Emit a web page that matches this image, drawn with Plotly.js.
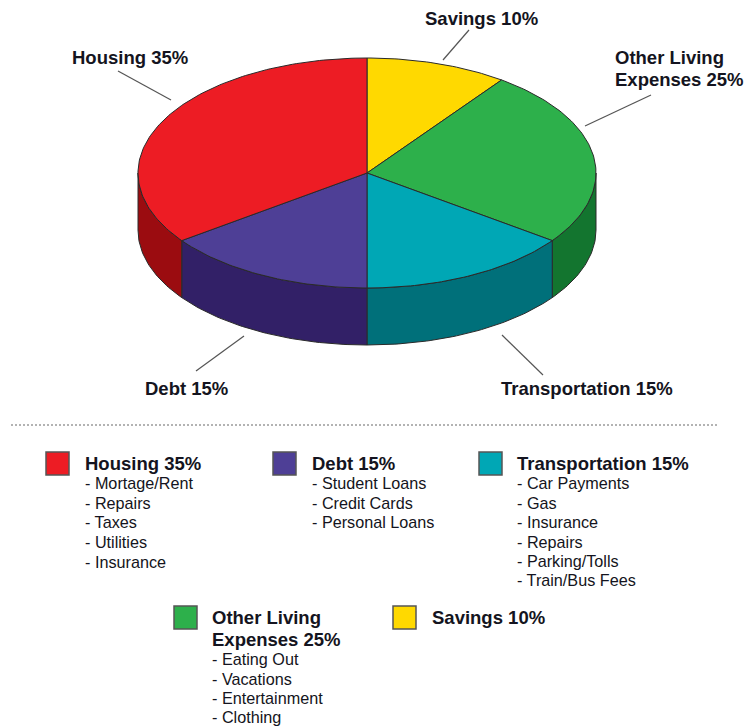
<!DOCTYPE html>
<html><head><meta charset="utf-8">
<script src="https://cdn.plot.ly/plotly-3.0.1.min.js"></script>
<style>html,body{margin:0;padding:0;background:#fff}#c{width:744px;height:726px}</style>
</head><body><div id="c"></div>
<script>
// Data, clockwise from 12 o'clock
const categories = ['Savings', 'Other Living Expenses', 'Transportation', 'Debt', 'Housing'];
const shares = [10, 25, 15, 15, 35];
const topColors = ['#FFD900', '#2DB04B', '#00A7B5', '#4E3F96', '#ED1C24'];
const wallColors = ['#B89A00', '#13752F', '#00707A', '#322067', '#9B0C10'];

const housingItems = ['- Mortage/Rent', '- Repairs', '- Taxes', '- Utilities', '- Insurance'];
const debtItems = ['- Student Loans', '- Credit Cards', '- Personal Loans'];
const transportItems = ['- Car Payments', '- Gas', '- Insurance', '- Repairs', '- Parking/Tolls', '- Train/Bus Fees'];
const otherItems = ['- Eating Out', '- Vacations', '- Entertainment', '- Clothing'];

// Geometry of the drawing, in page pixels
const cx = 367, cy = 173, rx = 229, ry = 115, depth = 57;
const ink = '#2a2a2a';
const pt = deg => [cx + rx * Math.sin(deg * Math.PI / 180), cy - ry * Math.cos(deg * Math.PI / 180)];

const traces = [];
function poly(xs, ys, fill) {
  traces.push({type: 'scatter', mode: 'lines', x: xs, y: ys, fill: 'toself', fillcolor: fill,
    line: {color: ink, width: 1}, hoverinfo: 'skip', showlegend: false});
}
let a = 0;
const spans = shares.map(s => { const r = [a, a + s * 3.6]; a = r[1]; return r; });
// walls (front half only)
spans.forEach((sp, i) => {
  const a0 = Math.max(sp[0], 90), a1 = Math.min(sp[1], 270);
  if (a1 <= a0) return;
  const xs = [], ys = [];
  for (let d = a0; d < a1; d += 1) { const p = pt(d); xs.push(p[0]); ys.push(p[1]); }
  let p = pt(a1); xs.push(p[0]); ys.push(p[1]);
  xs.push(p[0]); ys.push(p[1] + depth);
  for (let d = a1; d > a0; d -= 1) { p = pt(d); xs.push(p[0]); ys.push(p[1] + depth); }
  p = pt(a0); xs.push(p[0], xs[0]); ys.push(p[1] + depth, ys[0]);
  poly(xs, ys, wallColors[i]);
});
// top wedges
spans.forEach((sp, i) => {
  const xs = [cx], ys = [cy];
  for (let d = sp[0]; d < sp[1]; d += 1) { const p = pt(d); xs.push(p[0]); ys.push(p[1]); }
  const p = pt(sp[1]); xs.push(p[0], cx); ys.push(p[1], cy);
  poly(xs, ys, topColors[i]);
});

const annotations = [];
function txt(x, y, text, bold, size, anchor) {
  annotations.push({xref: 'x', yref: 'y', x, y, text, showarrow: false, xanchor: anchor || 'left', yanchor: 'middle',
    align: 'left', borderpad: 0, font: {family: 'Liberation Sans, Arial, sans-serif', size: size, color: '#141420',
    weight: bold ? 700 : 400}});
}
const titleSize = 18.5, itemSize = 16.2;
const shapes = [];
// callouts
[[71, 57, 'Housing 35%'], [424, 18, 'Savings 10%'], [614, 57, 'Other Living'], [614, 79, 'Expenses 25%'],
 [144, 388, 'Debt 15%'], [500, 388, 'Transportation 15%']].forEach(r => txt(r[0], r[1], '<b>' + r[2] + '</b>', true, titleSize));
[[118, 71, 171, 100], [469, 30, 443, 60], [651, 95, 585, 126], [244, 336, 196, 371], [502, 335, 543, 375]].forEach(l =>
  shapes.push({type: 'line', xref: 'x', yref: 'y', x0: l[0], y0: l[1], x1: l[2], y1: l[3], line: {color: '#555', width: 1.2}}));
// divider
shapes.push({type: 'line', xref: 'x', yref: 'y', x0: 11, x1: 718, y0: 425, y1: 425, line: {color: '#9a9a9a', width: 1.5, dash: '2px,2px'}});

// key
function key(sx, sy, color, tx, titleLines, titleYs, items, itemYs) {
  shapes.push({type: 'rect', xref: 'x', yref: 'y', x0: sx, x1: sx + 23, y0: sy, y1: sy + 23, fillcolor: color, line: {color: '#555', width: 1.5}});
  titleLines.forEach((t, i) => txt(tx - 1, titleYs[i], '<b>' + t + '</b>', true, titleSize));
  items.forEach((t, i) => txt(tx - 1, itemYs[i], t, false, itemSize));
}
key(46, 452, topColors[4], 85, ['Housing 35%'], [463], housingItems, [483, 503, 522, 542, 562]);
key(273, 452, topColors[3], 312, ['Debt 15%'], [463], debtItems, [483, 503, 522]);
key(479, 452, topColors[2], 517, ['Transportation 15%'], [463], transportItems, [483, 503, 522, 542, 561, 580]);
key(174, 606, topColors[1], 212, ['Other Living', 'Expenses 25%'], [617, 639], otherItems, [659, 679, 698, 717]);
key(393, 606, topColors[0], 432, ['Savings 10%'], [617], [], []);

const layout = {
  width: 744, height: 726, margin: {l: 0, r: 0, t: 0, b: 0}, paper_bgcolor: '#fff', plot_bgcolor: '#fff', showlegend: false,
  xaxis: {range: [0, 744], visible: false, fixedrange: true},
  yaxis: {range: [726, 0], visible: false, fixedrange: true},
  shapes, annotations
};
Plotly.newPlot('c', traces, layout, {displayModeBar: false, staticPlot: true});
</script></body></html>
